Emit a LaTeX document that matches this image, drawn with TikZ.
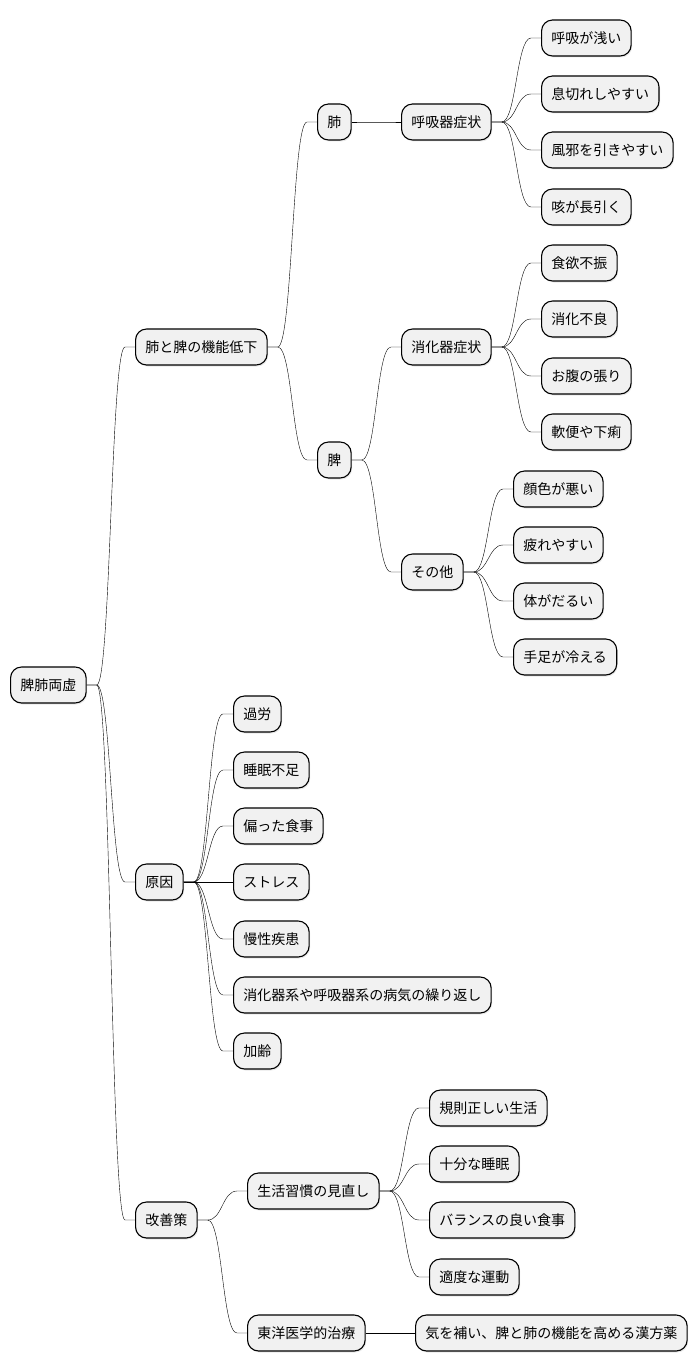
\documentclass[tikz,border=0pt]{standalone}
\usepackage{fontspec}
\setmainfont{Noto Sans CJK JP}
\usepackage{xcolor}
\usetikzlibrary{calc,shadows}
\definecolor{boxgray}{HTML}{F1F1F1}

\begin{document}
\begin{tikzpicture}[x=1pt,y=-1pt,
  topic/.style={draw=black, line width=1.1pt, fill=boxgray, rounded corners=11pt,
    minimum height=36pt, inner xsep=9.8pt, inner ysep=0pt, anchor=west,
    font=\fontsize{14}{16}\selectfont,
    drop shadow={shadow xshift=1pt, shadow yshift=-1.5pt, opacity=0.18}},
  branch/.style={line width=1pt, to path={let \p1=(\tikztostart), \p2=(\tikztotarget),
    \n1={0.5*(\x1+\x2)} in -- ++(10pt,0) .. controls (\n1,\y1) and (\n1,\y2) ..
    (\x2-10pt,\y2) -- (\tikztotarget)}}]
\useasboundingbox (0,0) rectangle (698,1372);

% root and first level
\node[topic] (root) at (10,685) {脾肺両虚};
\node[topic] (weak) at (135,347) {肺と脾の機能低下};
\node[topic] (cause) at (135,882) {原因};
\node[topic] (remedy) at (135,1220) {改善策};

% lung and spleen
\node[topic] (lung) at (317,122) {肺};
\node[topic] (spleen) at (317,460) {脾};
\node[topic] (resp) at (401,122) {呼吸器症状};
\node[topic] (digest) at (401,347) {消化器症状};
\node[topic] (other) at (401,572) {その他};

\node[topic] (r1) at (541,38) {呼吸が浅い};
\node[topic] (r2) at (541,94) {息切れしやすい};
\node[topic] (r3) at (541,150) {風邪を引きやすい};
\node[topic] (r4) at (541,207) {咳が長引く};

\node[topic] (d1) at (541,263) {食欲不振};
\node[topic] (d2) at (541,319) {消化不良};
\node[topic] (d3) at (541,376) {お腹の張り};
\node[topic] (d4) at (541,432) {軟便や下痢};

\node[topic] (o1) at (513,489) {顔色が悪い};
\node[topic] (o2) at (513,545) {疲れやすい};
\node[topic] (o3) at (513,601) {体がだるい};
\node[topic] (o4) at (513,657) {手足が冷える};

% causes
\node[topic] (c1) at (233,714) {過労};
\node[topic] (c2) at (233,770) {睡眠不足};
\node[topic] (c3) at (233,826) {偏った食事};
\node[topic] (c4) at (233,882) {ストレス};
\node[topic] (c5) at (233,939) {慢性疾患};
\node[topic] (c6) at (233,995) {消化器系や呼吸器系の病気の繰り返し};
\node[topic] (c7) at (233,1051) {加齢};

% remedies
\node[topic] (life) at (247,1191) {生活習慣の見直し};
\node[topic] (kampo) at (247,1333) {東洋医学的治療};
\node[topic] (l1) at (429,1108) {規則正しい生活};
\node[topic] (l2) at (429,1164) {十分な睡眠};
\node[topic] (l3) at (429,1220) {バランスの良い食事};
\node[topic] (l4) at (429,1277) {適度な運動};
\node[topic] (k1) at (415,1333) {気を補い、脾と肺の機能を高める漢方薬};

\draw (root.east) to[branch] (weak.west);
\draw (root.east) to[branch] (cause.west);
\draw (root.east) to[branch] (remedy.west);

\draw (weak.east) to[branch] (lung.west);
\draw (weak.east) to[branch] (spleen.west);
\draw (lung.east) to[branch] (resp.west);
\draw (spleen.east) to[branch] (digest.west);
\draw (spleen.east) to[branch] (other.west);

\draw (resp.east) to[branch] (r1.west);
\draw (resp.east) to[branch] (r2.west);
\draw (resp.east) to[branch] (r3.west);
\draw (resp.east) to[branch] (r4.west);

\draw (digest.east) to[branch] (d1.west);
\draw (digest.east) to[branch] (d2.west);
\draw (digest.east) to[branch] (d3.west);
\draw (digest.east) to[branch] (d4.west);

\draw (other.east) to[branch] (o1.west);
\draw (other.east) to[branch] (o2.west);
\draw (other.east) to[branch] (o3.west);
\draw (other.east) to[branch] (o4.west);

\draw (cause.east) to[branch] (c1.west);
\draw (cause.east) to[branch] (c2.west);
\draw (cause.east) to[branch] (c3.west);
\draw (cause.east) to[branch] (c4.west);
\draw (cause.east) to[branch] (c5.west);
\draw (cause.east) to[branch] (c6.west);
\draw (cause.east) to[branch] (c7.west);

\draw (remedy.east) to[branch] (life.west);
\draw (remedy.east) to[branch] (kampo.west);
\draw (life.east) to[branch] (l1.west);
\draw (life.east) to[branch] (l2.west);
\draw (life.east) to[branch] (l3.west);
\draw (life.east) to[branch] (l4.west);
\draw (kampo.east) to[branch] (k1.west);

\end{tikzpicture}
\end{document}
